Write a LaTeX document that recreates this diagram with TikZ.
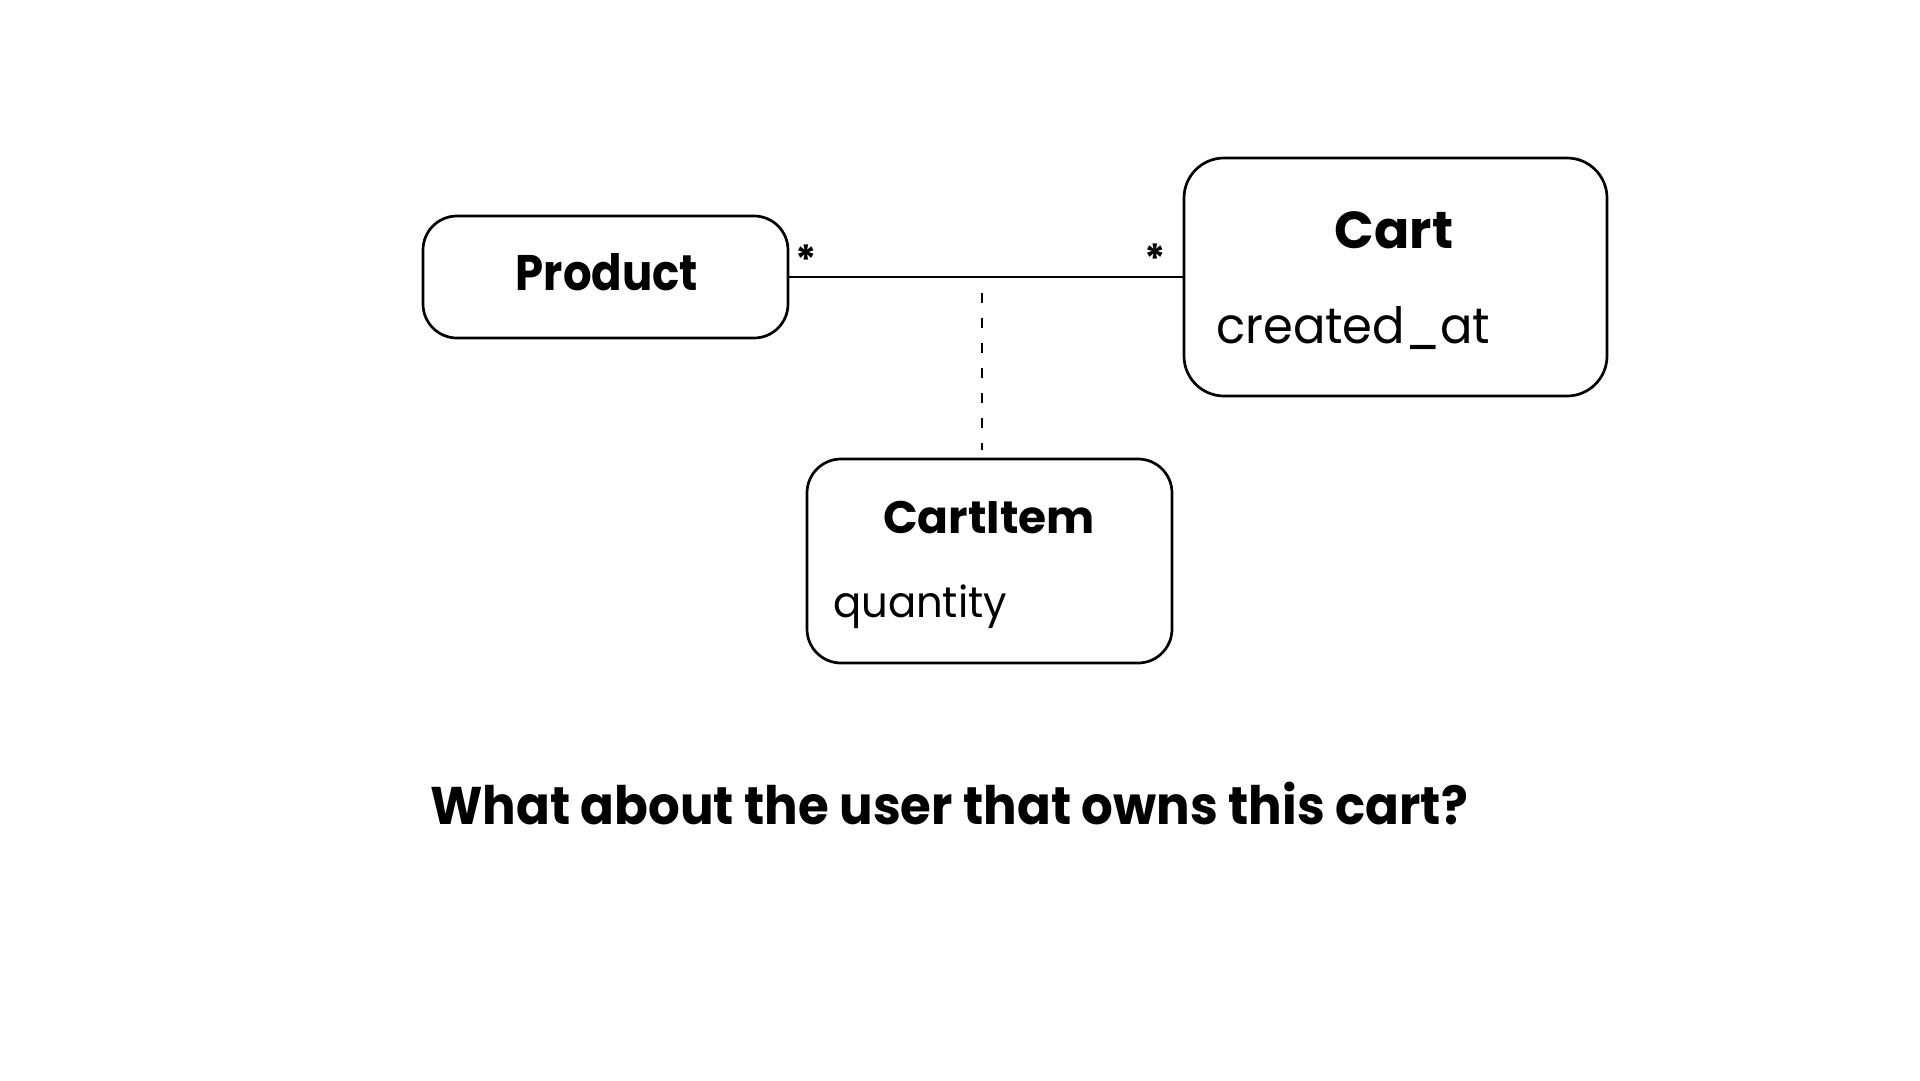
\documentclass[tikz,border=0pt]{standalone}
\usepackage{fontspec}
\setmainfont{Poppins}
\newfontfamily\popbold{Poppins}[UprightFont=* Bold]
\newcommand{\stretchto}[1]{\addfontfeature{FakeStretch=#1}}
\begin{document}
\begin{tikzpicture}[x=1pt,y=-1pt,
  entity/.style={draw=black,line width=2.7pt,rounded corners=34pt,fill=white,inner sep=0pt},
  titletext/.style={anchor=base,inner sep=0pt},
  attrtext/.style={anchor=base west,inner sep=0pt},
  mult/.style={inner sep=0pt,font=\popbold\fontsize{40}{40}\selectfont},
  assoc/.style={line width=2.3pt},
  assocdash/.style={line width=2.3pt,dash pattern=on 10pt off 15pt}]
\fill[white] (0,0) rectangle (1920,1080);
\useasboundingbox (0,0) rectangle (1920,1080);
% boxes
\node[entity,minimum width=365pt,minimum height=122pt] (product) at (605.5,277) {};
\node[entity,minimum width=423pt,minimum height=238pt,rounded corners=40pt] (cart) at (1395.5,277) {};
\node[entity,minimum width=365pt,minimum height=204pt] (cartitem) at (989.5,561) {};
% texts
\node[titletext,font=\popbold\fontsize{50}{50}\selectfont\stretchto{0.9}] (ptitle) at (607,290) {Product};
\node[titletext,font=\popbold\fontsize{52}{52}\selectfont] (ctitle) at (1394,248) {Cart};
\node[attrtext,font=\fontsize{50}{50}\selectfont\stretchto{0.96}] (cattr) at (1216,343) {created\_at};
\node[titletext,font=\popbold\fontsize{45.5}{45.5}\selectfont] (cititle) at (989,533) {CartItem};
\node[attrtext,font=\fontsize{43}{43}\selectfont\stretchto{0.97}] (ciattr) at (833,617) {quantity};
% association
\draw[assoc] (product.east) -- (cart.west);
\node[mult] (m1) at (806,260) {*};
\node[mult] (m2) at (1155,259) {*};
\coordinate (dtop) at (982,293);
\coordinate (dbot) at (982,450);
\draw[assocdash] (dtop) -- (dbot);
% question
\node[anchor=base west,inner sep=0pt,font=\popbold\fontsize{53}{53}\selectfont\stretchto{0.94}] (question) at (430,824) {What about the user that owns this cart?};
\end{tikzpicture}
\end{document}
